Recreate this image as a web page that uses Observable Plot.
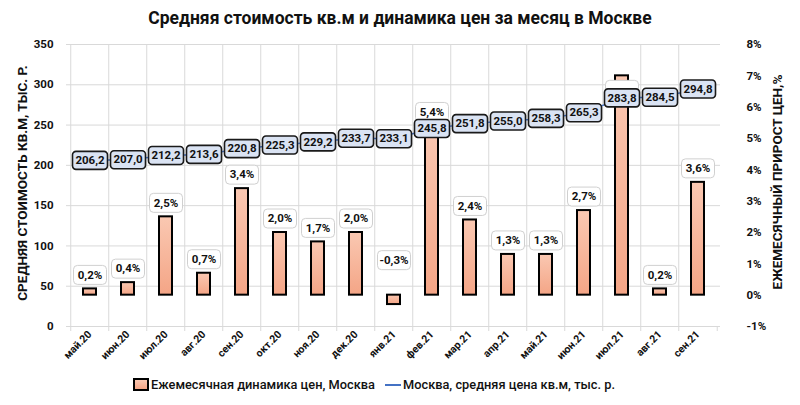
<!DOCTYPE html>
<html>
<head>
<meta charset="utf-8">
<script src="https://cdn.jsdelivr.net/npm/d3@7"></script>
<script src="https://cdn.jsdelivr.net/npm/@observablehq/plot@0.6"></script>
<style>
  html, body { margin: 0; padding: 0; background: #fff; }
  #wrap { position: relative; width: 800px; height: 405px; overflow: hidden; font-family: Roboto, "Noto Sans", sans-serif; }
  #wrap svg { position: absolute; left: 0; top: 0; }
  .title { position: absolute; left: 0; width: 800px; top: 8px; text-align: center; font-size: 17.5px; font-weight: bold; color: #111; }
  .ytitle { position: absolute; font-size: 13.5px; font-weight: bold; color: #111; white-space: nowrap; transform: translate(-50%, -50%) rotate(-90deg); }
  .legend { position: absolute; top: 377px; left: 0; width: 800px; font-size: 12.8px; font-weight: 500; color: #111; }
  .legend .item { position: absolute; display: flex; align-items: center; white-space: nowrap; }
  .sw { width: 12px; height: 9px; border: 2px solid #000; background: linear-gradient(#fac8b2, #f4a586); margin-right: 2px; }
  .ln { width: 16px; height: 0; border-top: 2px solid #4472c4; margin-right: 2px; }
</style>
</head>
<body>
<div id="wrap">
  <div class="title">Средняя стоимость кв.м и динамика цен за месяц в Москве</div>
  <div class="legend">
    <div class="item" style="left:133px;"><div class="sw"></div>Ежемесячная динамика цен, Москва</div>
    <div class="item" style="left:385px;"><div class="ln"></div>Москва, средняя цена кв.м, тыс. р.</div>
  </div>
</div>
<script>
const months = ["май.20","июн.20","июл.20","авг.20","сен.20","окт.20","ноя.20","дек.20","янв.21","фев.21","мар.21","апр.21","май.21","июн.21","июл.21","авг.21","сен.21"];
const growthPct = [0.2, 0.4, 2.5, 0.7, 3.4, 2.0, 1.7, 2.0, -0.3, 5.4, 2.4, 1.3, 1.3, 2.7, 7.0, 0.2, 3.6];
const avgPrice = [206.2, 207.0, 212.2, 213.6, 220.8, 225.3, 229.2, 233.7, 233.1, 245.8, 251.8, 255.0, 258.3, 265.3, 283.8, 284.5, 294.8];
const leftTicks = [0, 50, 100, 150, 200, 250, 300, 350];
const rightTicks = [-1, 0, 1, 2, 3, 4, 5, 6, 7, 8];
const leftTitle = "СРЕДНЯЯ СТОИМОСТЬ КВ.М, ТЫС. Р.";
const rightTitle = "ЕЖЕМЕСЯЧНЫЙ ПРИРОСТ ЦЕН,%";

// left axis (price) mapped onto the right (percent) scale: 0..350 <-> -1..8
const toPct = p => -1 + p * 9 / 350;
const fmtComma = (v, d) => (v < 0 ? "-" : "") + Math.abs(v).toFixed(d).replace(".", ",");

const data = months.map((m, i) => ({month: m, g: growthPct[i], p: avgPrice[i], py: toPct(avgPrice[i])}));

const roundRect = (w, h, r) => ({
  draw(ctx) {
    const x0 = -w / 2, y0 = -h / 2, x1 = w / 2, y1 = h / 2;
    ctx.moveTo(x0 + r, y0);
    ctx.lineTo(x1 - r, y0); ctx.arcTo(x1, y0, x1, y0 + r, r);
    ctx.lineTo(x1, y1 - r); ctx.arcTo(x1, y1, x1 - r, y1, r);
    ctx.lineTo(x0 + r, y1); ctx.arcTo(x0, y1, x0, y1 - r, r);
    ctx.lineTo(x0, y0 + r); ctx.arcTo(x0, y0, x0 + r, y0, r);
    ctx.closePath();
  }
});

const W = 800, H = 405, mL = 66, mR = 80, mT = 44, mB = 79;
const band = (W - mL - mR) / months.length;

const normal = data.filter(d => d.g >= 0 && d.g < 6.5);
const negative = data.filter(d => d.g < 0);
const tall = data.filter(d => d.g >= 6.5); // its label lies hidden under the price label, as in the source

const pctBox = (arr, yFn, dy) => Plot.dot(arr, {x: "month", y: yFn, dy, r: 5, symbol: roundRect(33, 19, 4), fill: "#fff", stroke: "#d0d0d0", strokeWidth: 1});
const pctText = (arr, yFn, dy) => Plot.text(arr, {x: "month", y: yFn, dy, text: d => fmtComma(d.g, 1) + "%", fontSize: 11.5, fontWeight: "bold", fill: "#111"});

const chart = Plot.plot({
  width: W, height: H,
  marginLeft: mL, marginRight: mR, marginTop: mT, marginBottom: mB,
  style: {fontFamily: "Roboto, 'Noto Sans', sans-serif", background: "transparent"},
  x: {type: "band", domain: months, paddingInner: 0.66, paddingOuter: 0.33, align: 0.5},
  y: {domain: [-1, 8]},
  marks: [
    Plot.gridY(leftTicks.map(toPct), {stroke: "#d9d9d9", strokeOpacity: 1, strokeWidth: 1}),
    Plot.ruleY([-1], {stroke: "#d9d9d9", strokeWidth: 1.2}),
    Plot.tickX(months, {x: d => d, y1: -1, y2: -1, dx: -band / 2, insetBottom: -5, stroke: "#d9d9d9"}),
    Plot.ruleX([months[months.length - 1]], {y1: -1, y2: -1, dx: band / 2, insetBottom: -5, stroke: "#d9d9d9"}),
    Plot.barY(data, {x: "month", y1: 0, y2: "g", fill: "url(#barGrad)", stroke: "#000", strokeWidth: 2}),
    pctBox(normal, d => d.g, -14), pctText(normal, d => d.g, -14),
    pctBox(negative, d => 0, -35), pctText(negative, d => 0, -35),
    pctBox(tall, d => d.g, 14),
    Plot.line(data, {x: "month", y: "py", stroke: "#4472c4", strokeWidth: 1.5}),
    Plot.dot(data, {x: "month", y: "py", r: 5, symbol: roundRect(35, 18, 3.5), fill: "#dae3f3", stroke: "#1a1a1a", strokeWidth: 1.6}),
    Plot.text(data, {x: "month", y: "py", text: d => fmtComma(d.p, 1), fontSize: 11.5, fontWeight: "bold", fill: "#111"}),
    Plot.axisY(leftTicks.map(toPct), {anchor: "left", tickSize: 0, tickPadding: 13, label: null,
      tickFormat: v => String(Math.round((v + 1) * 350 / 9)), fontSize: 11.5, fontWeight: "bold"}),
    Plot.axisY(rightTicks, {anchor: "right", tickSize: 0, tickPadding: 26, label: null,
      tickFormat: v => (v < 0 ? "-" : "") + Math.abs(v) + "%", fontSize: 11.5, fontWeight: "bold"}),
    Plot.axisX({tickSize: 0, tickRotate: -45, tickPadding: 6, label: null, fontSize: 10.5, fontWeight: "bold"})
  ]
});

// gradient definition for the bars
const ns = "http://www.w3.org/2000/svg";
const defs = document.createElementNS(ns, "defs");
defs.innerHTML = '<linearGradient id="barGrad" x1="0" y1="0" x2="0" y2="1"><stop offset="0" stop-color="#fac8b2"/><stop offset="1" stop-color="#f4a586"/></linearGradient>';
chart.insertBefore(defs, chart.firstChild);
chart.style.color = "#111";

const wrap = document.getElementById("wrap");
wrap.insertBefore(chart, wrap.firstChild);

const lt = document.createElement("div");
lt.className = "ytitle"; lt.textContent = leftTitle;
lt.style.left = "22px"; lt.style.top = "183px";
wrap.appendChild(lt);
const rt = document.createElement("div");
rt.className = "ytitle"; rt.textContent = rightTitle;
rt.style.left = "777px"; rt.style.top = "182px";
wrap.appendChild(rt);
</script>
</body>
</html>
